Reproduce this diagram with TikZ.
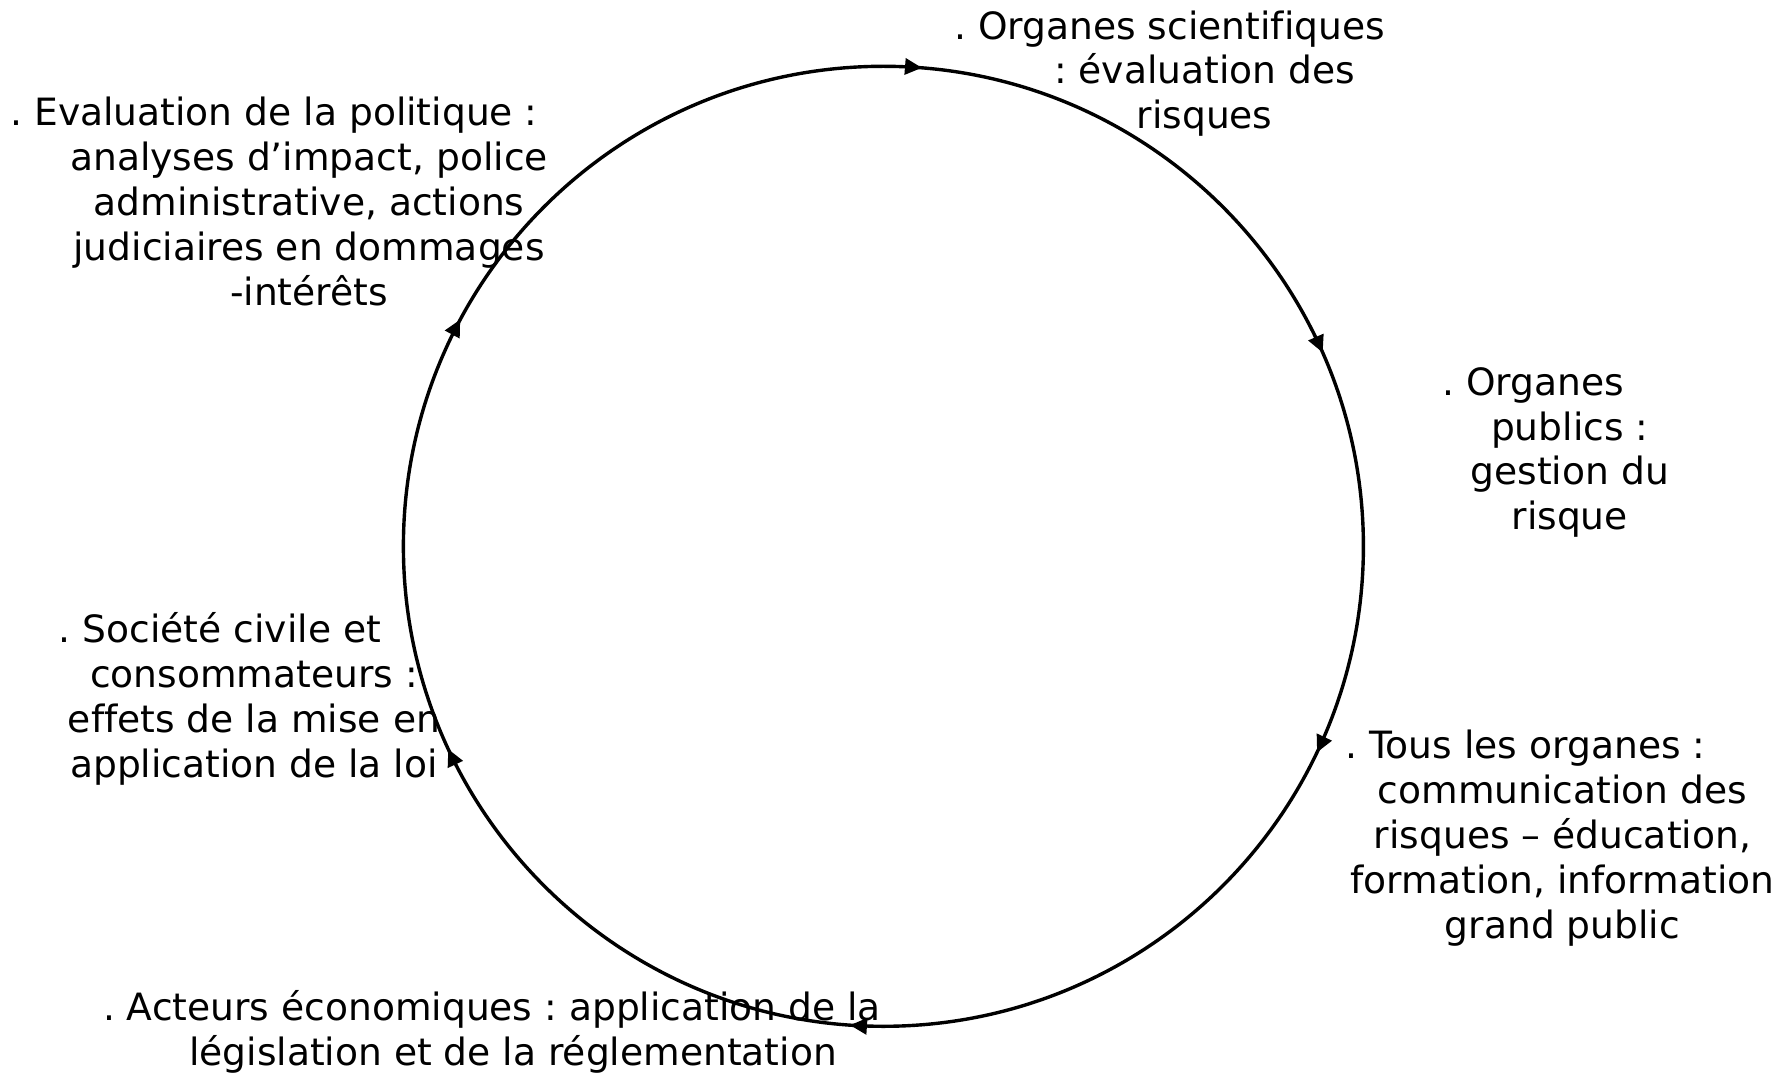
\documentclass[tikz,border=0pt]{standalone}
\usepackage{fontspec}
\setmainfont{DejaVu Sans}[Ligatures=NoCommon]
\usetikzlibrary{arrows.meta,decorations.markings}
\newcommand\lnstrut{\rule{0pt}{31.4pt}}
\tikzset{
  lbl/.style={align=center, inner sep=0pt, anchor=north, font=\fontsize{37.6}{44.9}\selectfont\frenchspacing},
  cyc/.style={line width=3.4pt},
  tipmark/.style={postaction={decorate}, decoration={markings,
    mark=at position 0.0128 with {\arrow{Triangle[length=17pt,width=16pt]}},
    mark=at position 0.1839 with {\arrow{Triangle[length=17pt,width=16pt]}},
    mark=at position 0.3206 with {\arrow{Triangle[length=17pt,width=16pt]}},
    mark=at position 0.5111 with {\arrow{Triangle[length=17pt,width=16pt]}},
    mark=at position 0.6806 with {\arrow{Triangle[length=17pt,width=16pt]}},
    mark=at position 0.8283 with {\arrow{Triangle[length=17pt,width=16pt]}}}}
}
\begin{document}
\begin{tikzpicture}[x=1pt,y=1pt]
\useasboundingbox (0,0) rectangle (1792,-1075);
\coordinate (ctr) at (883.4,-546.3);
\draw[cyc,tipmark] ([shift={(90:480)}]ctr) arc[start angle=90, end angle=-270, radius=480];
\node[lbl] (eval) at (309,-94) {\lnstrut. Evaluation de la politique :\hspace*{70pt}\\ analyses d’impact, police\\ administrative, actions\\ judiciaires en dommages\\ -intérêts};
\node[lbl] (sci) at (1204.6,-7.5) {\lnstrut. Organes scientifiques\hspace*{70pt}\\ : évaluation des\\ risques};
\node[lbl] (pub) at (1569.7,-363.5) {\lnstrut. Organes\hspace*{73pt}\\ publics :\\ gestion du\\ risque};
\node[lbl] (tous) at (1562.4,-727) {\lnstrut. Tous les organes :\hspace*{74pt}\\ communication des\\ risques – éducation,\\ formation, information\\ grand public};
\node[lbl] (act) at (513,-989) {\lnstrut. Acteurs économiques : application de la\hspace*{42pt}\\ législation et de la réglementation};
\node[lbl] (soc) at (254,-611) {\lnstrut. Société civile et\hspace*{68pt}\\ consommateurs :\\ effets de la mise en\\ application de la loi};
\end{tikzpicture}
\end{document}
